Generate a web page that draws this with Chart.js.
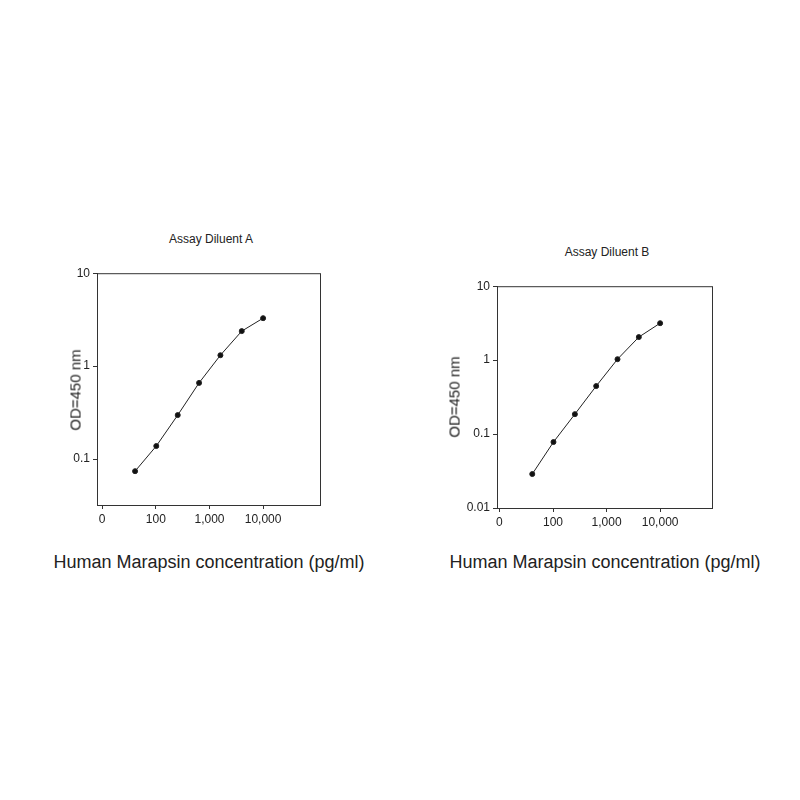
<!DOCTYPE html>
<html><head><meta charset="utf-8">
<script src="https://cdn.jsdelivr.net/npm/chart.js@4/dist/chart.umd.min.js"></script>
<style>
body{margin:0;background:#fff;font-family:"Liberation Sans",Arial,sans-serif;}
#wrap{position:relative;width:800px;height:800px;}
canvas{position:absolute;}
.t{position:absolute;color:#222;white-space:nowrap;}
</style></head><body><div id="wrap">
<canvas id="cA" style="left:60px;top:263px;width:280px;height:270px" width="280" height="270"></canvas>
<canvas id="cB" style="left:460px;top:276px;width:272px;height:260px" width="272" height="260"></canvas>
<div class="t" style="left:211px;top:232px;font-size:12px;transform:translateX(-50%)">Assay Diluent A</div>
<div class="t" style="left:607px;top:245px;font-size:12px;transform:translateX(-50%)">Assay Diluent B</div>
<div class="t" style="left:209px;top:552px;font-size:18px;transform:translateX(-50%)">Human Marapsin concentration (pg/ml)</div>
<div class="t" style="left:605px;top:552px;font-size:18px;transform:translateX(-50%)">Human Marapsin concentration (pg/ml)</div>
<div class="t" style="left:75px;top:390px;font-size:15px;transform:translate(-50%,-50%) rotate(-90deg)">OD=450 nm</div>
<div class="t" style="left:454px;top:397px;font-size:15px;transform:translate(-50%,-50%) rotate(-90deg)">OD=450 nm</div>
</div>
<script>
const concA=[41,102,256,640,1600,4000,10000];
const odA=[0.074,0.138,0.297,0.66,1.31,2.38,3.28];
const concB=[41,102,256,640,1600,4000,10000];
const odB=[0.0288,0.078,0.186,0.446,1.03,2.05,3.16];
const xTicks=[10,100,1000,10000];
const xLabels=["0","100","1,000","10,000"];
const yTicksA=[0.1,1,10];
const yTicksB=[0.01,0.1,1,10];

const boxPlugin={id:'box',afterDraw(c){const a=c.chartArea,x=c.ctx;x.save();x.strokeStyle='#333';x.lineWidth=1;x.strokeRect(a.left+0.5,a.top+0.5,a.right-a.left,a.bottom-a.top);x.restore();}};

function make(id,conc,od,xmin,xmax,ymin,ymax,yt){
 new Chart(document.getElementById(id),{type:'line',
  data:{datasets:[{data:conc.map((c,i)=>({x:c,y:od[i]})),borderColor:'#222',backgroundColor:'#111',borderWidth:1,pointRadius:2.5,tension:0}]},
  options:{responsive:false,animation:false,plugins:{legend:{display:false},tooltip:{enabled:false}},
   layout:{padding:{top:10,right:20}},
   scales:{
    x:{type:'logarithmic',min:xmin,max:xmax,
      afterBuildTicks:a=>{a.ticks=xTicks.map(v=>({value:v}));},
      afterFit:s=>{s.height=28;},
      ticks:{color:'#222',font:{size:12,family:'Liberation Sans'},maxRotation:0,autoSkip:false,callback:(v)=>{const i=xTicks.indexOf(v);return i>=0?xLabels[i]:'';}},
      grid:{drawOnChartArea:false,tickLength:4,color:'#333'},border:{color:'#333'}},
    y:{type:'logarithmic',min:ymin,max:ymax,
      afterBuildTicks:a=>{a.ticks=yt.map(v=>({value:v}));},
      afterFit:s=>{s.width=37;},
      ticks:{color:'#222',font:{size:12,family:'Liberation Sans'},autoSkip:false,callback:v=>String(v)},
      grid:{drawOnChartArea:false,tickLength:4,color:'#333'},border:{color:'#333'}}
   }},plugins:[boxPlugin]});
}
make('cA',concA,odA,8,115000,0.032,10,yTicksA);
make('cB',concB,odB,9,93000,0.01,10,yTicksB);
</script></body></html>
